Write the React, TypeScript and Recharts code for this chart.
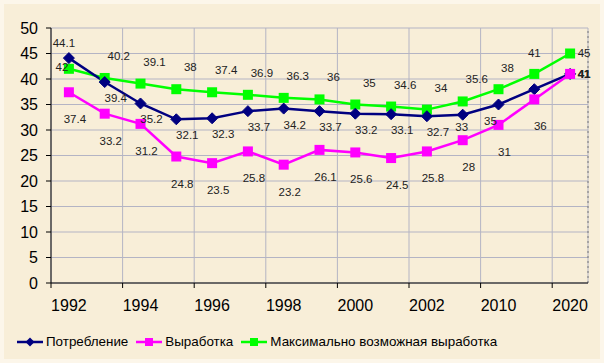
import {
  CartesianGrid,
  LabelList,
  Legend,
  Line,
  LineChart,
  ReferenceLine,
  XAxis,
  YAxis,
} from "recharts";

const years = [
  "1992", "1993", "1994", "1995", "1996", "1997", "1998", "1999",
  "2000", "2001", "2002", "2005", "2010", "2015", "2020",
];
const consumption = [44.1, 39.4, 35.2, 32.1, 32.3, 33.7, 34.2, 33.7, 33.2, 33.1, 32.7, 33, 35, 38, 41];
const production = [37.4, 33.2, 31.2, 24.8, 23.5, 25.8, 23.2, 26.1, 25.6, 24.5, 25.8, 28, 31, 36, 41];
const maxProduction = [42, 40.2, 39.1, 38, 37.4, 36.9, 36.3, 36, 35, 34.6, 34, 35.6, 38, 41, 45];
const yTicks = [0, 5, 10, 15, 20, 25, 30, 35, 40, 45, 50];
const xTicks = [0, 2, 4, 6, 8, 10, 12, 14];

const data = years.map((year, i) => ({
  year,
  pos: i + 0.5,
  consumption: consumption[i],
  production: production[i],
  maxProduction: maxProduction[i],
}));

const W = 604;
const H = 363;
const M = { top: 28, right: 16, left: 0, bottom: 10 };
const Y_W = 51;
const HALF = (W - M.left - M.right - Y_W) / years.length / 2;
const FONT = "'Liberation Sans', Arial, sans-serif";

const NAVY = "#000080";
const PINK = "#ff00ff";
const GREEN = "#00ff00";

// label placement relative to each point: default + a few exceptions
type Off = { dx: number; dy: number; hide?: boolean; bold?: boolean };
const makeLabel =
  (def: Off, special: Record<number, Off>) => (props: any) => {
    const { x, y, value, index } = props;
    const o = special[index] ?? def;
    if (o.hide) return null;
    return (
      <text
        x={x + o.dx}
        y={y + o.dy}
        textAnchor="middle"
        dominantBaseline="central"
        fontSize={11.5}
        fontFamily={FONT}
        fontWeight={o.bold ? "bold" : "normal"}
        fill="#222"
      >
        {value}
      </text>
    );
  };

const Diamond = (props: any) => {
  const { cx, cy } = props;
  if (cx == null || cy == null) return null;
  return (
    <polygon
      points={`${cx},${cy - 5.5} ${cx + 5.5},${cy} ${cx},${cy + 5.5} ${cx - 5.5},${cy}`}
      fill={NAVY}
      stroke={NAVY}
    />
  );
};

const square = (color: string) => (props: any) => {
  const { cx, cy } = props;
  if (cx == null || cy == null) return null;
  return <rect x={cx - 5} y={cy - 5} width={10} height={10} fill={color} />;
};

const XTick = (props: any) => {
  const { x, y, payload } = props;
  return (
    <text
      x={x + HALF}
      y={y + 21}
      textAnchor="middle"
      fontSize={16}
      fontFamily={FONT}
      fill="#000"
    >
      {years[payload.value]}
    </text>
  );
};

const legendItems = [
  { name: "Потребление", color: NAVY, shape: "diamond" },
  { name: "Выработка", color: PINK, shape: "square" },
  { name: "Максимально возможная выработка", color: GREEN, shape: "square" },
];

const renderLegend = () => (
  <div style={{ display: "flex", alignItems: "center", fontFamily: FONT, fontSize: 13.4, color: "#000" }}>
    {legendItems.map((it) => (
      <div key={it.name} style={{ display: "flex", alignItems: "center", marginRight: 8 }}>
        <svg width={26} height={12} style={{ marginRight: 3 }}>
          <line x1={0} y1={6} x2={26} y2={6} stroke={it.color} strokeWidth={2.5} />
          {it.shape === "diamond" ? (
            <polygon points="13,1.5 17.5,6 13,10.5 8.5,6" fill={it.color} />
          ) : (
            <rect x={9} y={2} width={8} height={8} fill={it.color} />
          )}
        </svg>
        <span>{it.name}</span>
      </div>
    ))}
  </div>
);

export default function App() {
  return (
    <div
      style={{
        position: "absolute",
        left: 0,
        top: 0,
        width: W,
        height: H,
        background: "#fcf6ea",
        fontFamily: FONT,
      }}
    >
      <div style={{ position: "absolute", left: 4, top: 4, right: 4, bottom: 4, background: "#f8eed8" }} />
      <div style={{ position: "absolute", left: 0, top: 0 }}>
        <LineChart width={W} height={H} data={data} margin={M}>
          <CartesianGrid stroke="#b4b4c4" strokeWidth={1} />
          <XAxis
            type="number"
            dataKey="pos"
            domain={[0, 15]}
            ticks={xTicks}
            interval={0}
            height={46}
            tickSize={5}
            tickMargin={2}
            tick={<XTick />}
            stroke="#000"
            axisLine={{ stroke: "#000" }}
            tickLine={{ stroke: "#000" }}
          />
          <YAxis
            domain={[0, 50]}
            ticks={yTicks}
            interval={0}
            width={Y_W}
            tickSize={5}
            tickMargin={8}
            tick={{ fontSize: 16, fill: "#000", fontFamily: FONT }}
            axisLine={{ stroke: "#000" }}
            tickLine={{ stroke: "#000" }}
          />
          <ReferenceLine x={15} stroke="#777" strokeDasharray="2 3" />
          <Legend verticalAlign="bottom" align="left" height={24} wrapperStyle={{ left: 17, bottom: 5 }} content={renderLegend} />
          <Line
            dataKey="maxProduction"
            name="Максимально возможная выработка"
            stroke={GREEN}
            strokeWidth={2.5}
            dot={square(GREEN)}
            activeDot={false}
            isAnimationActive={false}
          >
            <LabelList
              dataKey="maxProduction"
              content={makeLabel({ dx: 14, dy: -22 }, { 0: { dx: -7, dy: -2 }, 12: { dx: 9, dy: -21 }, 13: { dx: 0, dy: -21 }, 14: { dx: 14, dy: -1 } })}
            />
          </Line>
          <Line
            dataKey="consumption"
            name="Потребление"
            stroke={NAVY}
            strokeWidth={2.5}
            dot={Diamond}
            activeDot={false}
            isAnimationActive={false}
          >
            <LabelList
              dataKey="consumption"
              content={makeLabel({ dx: 11, dy: 16 }, { 0: { dx: -5, dy: -15 }, 11: { dx: -1, dy: 12 }, 12: { dx: -8, dy: 16 }, 13: { dx: 0, dy: 0, hide: true }, 14: { dx: 14, dy: 0, bold: true } })}
            />
          </Line>
          <Line
            dataKey="production"
            name="Выработка"
            stroke={PINK}
            strokeWidth={2.5}
            dot={square(PINK)}
            activeDot={false}
            isAnimationActive={false}
          >
            <LabelList
              dataKey="production"
              content={makeLabel({ dx: 6, dy: 27 }, { 14: { dx: 14, dy: 0, bold: true } })}
            />
          </Line>
        </LineChart>
      </div>
    </div>
  );
}
